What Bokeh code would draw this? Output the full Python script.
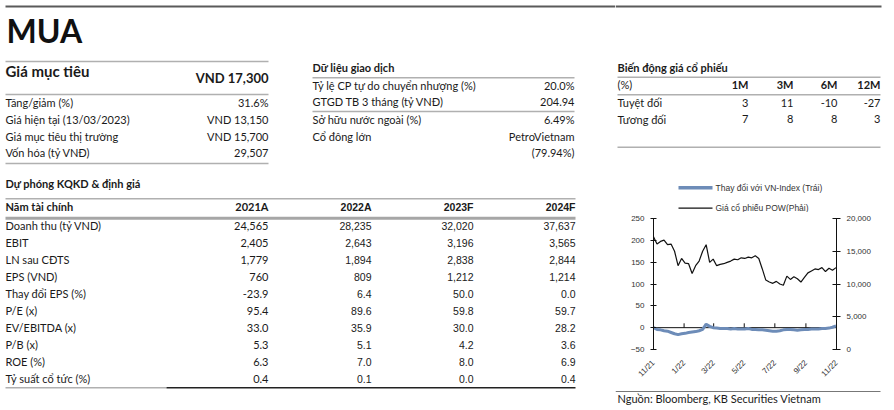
from math import pi
import pandas as pd
from bokeh.plotting import figure
from bokeh.layouts import row, column
from bokeh.models import Range1d, LinearAxis, FixedTicker, NumeralTickFormatter
from bokeh.embed import file_html
from bokeh.resources import INLINE
from bokeh.core.properties import value

# ---------------- data ----------------
rating = "MUA"
target_label = "Giá mục tiêu"
target_value = "VND 17,300"
summary_labels = ["Tăng/giảm (%)", "Giá hiện tại (13/03/2023)", "Giá mục tiêu thị trường", "Vốn hóa (tỷ VNĐ)"]
summary_values = ["31.6%", "VND 13,150", "VND 15,700", "29,507"]

trading_title = "Dữ liệu giao dịch"
trading_labels = ["Tỷ lệ CP tự do chuyển nhượng (%)", "GTGD TB 3 tháng (tỷ VNĐ)", "Sở hữu nước ngoài (%)", "Cổ đông lớn", ""]
trading_values = ["20.0%", "204.94", "6.49%", "PetroVietnam", "(79.94%)"]

perf_title = "Biến động giá cổ phiếu"
perf_header = "(%)"
perf_periods = ["1M", "3M", "6M", "12M"]
perf_rows = ["Tuyệt đối", "Tương đối"]
perf_abs = [3, 11, -10, -27]
perf_rel = [7, 8, 8, 3]

fc_title = "Dự phóng KQKD & định giá"
fc_header = "Năm tài chính"
fc_years = ["2021A", "2022A", "2023F", "2024F"]
fc_items = ["Doanh thu (tỷ VND)", "EBIT", "LN sau CĐTS", "EPS (VND)", "Thay đổi EPS (%)",
            "P/E (x)", "EV/EBITDA (x)", "P/B (x)", "ROE (%)", "Tỷ suất cổ tức (%)"]
fc_2021A = [24565, 2405, 1779, 760, -23.9, 95.4, 33.0, 5.3, 6.3, 0.4]
fc_2022A = [28235, 2643, 1894, 809, 6.4, 89.6, 35.9, 5.1, 7.0, 0.1]
fc_2023F = [32020, 3196, 2838, 1212, 50.0, 59.8, 30.0, 4.2, 8.0, 0.0]
fc_2024F = [37637, 3565, 2844, 1214, 0.0, 59.7, 28.2, 3.6, 6.9, 0.4]

legend_rel = "Thay đổi với VN-Index (Trái)"
legend_price = "Giá cổ phiếu POW(Phải)"
source_note = "Nguồn: Bloomberg, KB Securities Vietnam"

# weekly observations, Nov 2021 - Oct 2022
dates = pd.date_range("2021-11-01", periods=53, freq="7D")
pow_price = [17200, 16100, 16500, 16700, 16000, 16100, 15000, 12800, 13900, 13200,
             13100, 11600, 12800, 13500, 15000, 16000, 13300, 13800, 12800, 13000,
             13100, 13300, 13500, 13800, 13700, 14000, 13900, 14100, 14000, 14300,
             13900, 12300, 10600, 10300, 10100, 10400, 10000, 9800, 11200, 10700,
             11100, 10800, 10300, 11000, 11700, 12000, 12300, 12200, 12500, 11900,
             12400, 12100, 12500]
rel_vnindex = [0, -4, -5, -7, -8, -11, -14, -16, -14, -13,
               -11, -10, -9, -7, -4, 8, 3, 0, -1, -2,
               -2, -2, -3, -2, -3, -3, -3, -2, -4, -4,
               -5, -5, -6, -7, -8, -8, -7, -5, -4, -4,
               -5, -6, -5, -4, -4, -3, -3, -3, -2, -2,
               -1, 1, 4]
x_ticks = ["2021-11-01", "2022-01-01", "2022-03-01", "2022-05-01", "2022-07-01", "2022-09-01", "2022-11-01"]
x_tick_labels = ["11/21", "1/22", "3/22", "5/22", "7/22", "9/22", "11/22"]
left_ticks = [-50, 0, 50, 100, 150, 200, 250]
right_ticks = [0, 5000, 10000, 15000, 20000]

# ---------------- styling ----------------
BODY = "Lato"
NUMF = "Liberation Sans"
TXT = "#1a1a1a"
RULE = "#b0b0b0"
FS = 11
SHIFT = 0.42  # alphabetic-baseline correction, in em


def canvas(x0, x1, y0, y1):
    p = figure(width=x1 - x0, height=y1 - y0, x_range=Range1d(x0, x1), y_range=Range1d(y1, y0),
               output_backend="svg", toolbar_location=None, min_border=0,
               x_axis_location=None, y_axis_location=None, frame_align=False)
    p.grid.visible = False
    p.outline_line_color = None
    return p


def txt(p, xs, ys, texts, size=FS, font=BODY, style="normal", align="left",
        color=TXT, baseline="alphabetic"):
    if baseline == "alphabetic":
        ys = [y - SHIFT * size for y in ys]
    p.text(x=xs, y=ys, text=texts, text_font=value(font), text_font_size=f"{size}px",
           text_font_style=style, text_align=align, text_baseline=baseline, text_color=color)


def rule(p, x0, x1, y, color=RULE, width=1.5):
    p.segment(x0=[x0], y0=[y], x1=[x1], y1=[y], line_color=color, line_width=width)


def fmt(v, i):
    return f"{v:,.0f}" if i < 4 else f"{v:.1f}"


# ---------------- left canvas ----------------
L = canvas(0, 615, 0, 410)
rule(L, 5, 615, 6, "#5a5a5a", 2)
txt(L, [6], [43], [rating], size=32, style="bold", color="#111")

rule(L, 5, 268, 61)
txt(L, [5], [77], [target_label], size=15, style="bold")
txt(L, [268], [83], [target_value], size=13, style="bold", align="right")
rule(L, 5, 268, 94)
sum_y = [107, 124, 140.5, 157]
txt(L, [5] * 4, sum_y, summary_labels)
txt(L, [268] * 4, sum_y, summary_values, align="right")
rule(L, 5, 268, 163)

# trading data
txt(L, [312], [71.7], [trading_title], style="bold")
rule(L, 312, 574, 77.3)
tr_y = [89.3, 105.7, 123.3, 140.7, 156.7]
txt(L, [312] * 5, tr_y, trading_labels)
txt(L, [574] * 5, tr_y, trading_values, align="right")
rule(L, 312, 574, 111)

# forecast table
txt(L, [5], [188], [fc_title], style="bold")
rule(L, 5, 575, 198.3)
txt(L, [5], [210.7], [fc_header], style="bold")
col_x = [268, 371, 473, 575]
txt(L, [col_x[0]], [210.7], [fc_years[0]], style="bold", align="right")
txt(L, col_x[1:], [210.7] * 3, fc_years[1:], size=10.5, font=NUMF, style="bold", align="right")
rule(L, 5, 575, 217.7, "#a6a6a6", 3)
row_y = [230 + 17 * i for i in range(len(fc_items))]
txt(L, [5] * len(fc_items), row_y, fc_items)
txt(L, [col_x[0]] * len(row_y), row_y, [fmt(v, i) for i, v in enumerate(fc_2021A)], align="right")
for cx, vals in zip(col_x[1:], [fc_2022A, fc_2023F, fc_2024F]):
    txt(L, [cx] * len(row_y), row_y, [fmt(v, i) for i, v in enumerate(vals)],
        size=10.5, font=NUMF, align="right")
rule(L, 5, 166, 387.3)
rule(L, 166, 575, 387.3, "#222222", 1.5)

# ---------------- right top canvas ----------------
R = canvas(615, 894, 0, 212)
rule(R, 615, 881, 6, "#5a5a5a", 2)
txt(R, [617], [71.7], [perf_title], style="bold")
rule(R, 617, 880, 76.7)
per_x = [748, 793, 837, 880]
txt(R, [617], [89], [perf_header])
txt(R, per_x, [89] * 4, perf_periods, style="bold", align="right")
rule(R, 617, 880, 94.3)
txt(R, [617, 617], [106.7, 123.3], perf_rows)
txt(R, per_x, [106.7] * 4, [str(v) for v in perf_abs], align="right")
txt(R, per_x, [123.3] * 4, [str(v) for v in perf_rel], align="right")
rule(R, 617, 880, 146.7)
# legend
rule(R, 678, 712, 187.3, "#6d8cb8", 3.5)
rule(R, 678, 712, 207.7, "#111111", 1.3)
txt(R, [715, 715], [187.3, 207.7], [legend_rel, legend_price], size=8.5, font=NUMF,
    color="#333333", baseline="middle")

# ---------------- chart ----------------
x_start = pd.Timestamp(x_ticks[0])
x_end = pd.Timestamp(x_ticks[-1])
C = figure(width=279, height=172, x_axis_type="datetime",
           x_range=Range1d(x_start, x_end), y_range=Range1d(left_ticks[0], left_ticks[-1]),
           output_backend="svg", toolbar_location=None, frame_align=False,
           min_border_left=38, min_border_right=58, min_border_top=6, min_border_bottom=31)
C.extra_y_ranges = {"price": Range1d(right_ticks[0], right_ticks[-1])}
C.grid.visible = False
C.outline_line_color = None

tick_ms = [pd.Timestamp(t).value / 1e6 for t in x_ticks]
xa = C.xaxis[0]
xa.ticker = FixedTicker(ticks=tick_ms)
xa.major_label_overrides = {ms: lab for ms, lab in zip(tick_ms, x_tick_labels)}
xa.major_label_orientation = pi / 4
xa.axis_line_color = None
xa.major_tick_line_color = None
xa.minor_tick_line_color = None
xa.major_label_standoff = 6
xa.major_label_text_font = NUMF
xa.major_label_text_font_size = "8px"
xa.major_label_text_color = "#333333"

ya = C.yaxis[0]
ya.ticker = FixedTicker(ticks=left_ticks)
ya.axis_line_color = "#111111"
ya.major_tick_line_color = "#111111"
ya.minor_tick_line_color = None
ya.major_tick_in = 3
ya.major_tick_out = 3
ya.major_label_standoff = 6
ya.major_label_text_font = NUMF
ya.major_label_text_font_size = "8px"
ya.major_label_text_color = "#333333"

ra = LinearAxis(y_range_name="price", ticker=FixedTicker(ticks=right_ticks),
                formatter=NumeralTickFormatter(format="0,0"))
ra.axis_line_color = "#111111"
ra.major_tick_line_color = "#111111"
ra.minor_tick_line_color = None
ra.major_tick_in = 4
ra.major_tick_out = 4
ra.major_label_standoff = 6
ra.major_label_text_font = NUMF
ra.major_label_text_font_size = "8px"
ra.major_label_text_color = "#333333"
C.add_layout(ra, "right")

# zero line with small upward ticks
C.segment(x0=[x_start], y0=[0], x1=[x_end], y1=[0], line_color="#111111", line_width=1)
mid_ticks = [pd.Timestamp(t) for t in x_ticks[1:-1]]
C.segment(x0=mid_ticks, y0=[0] * len(mid_ticks), x1=mid_ticks, y1=[10] * len(mid_ticks),
          line_color="#111111", line_width=1)

C.line(dates, pow_price, line_color="#111111", line_width=1.2, y_range_name="price")
C.line(dates, rel_vnindex, line_color="#6d8cb8", line_width=3)

# ---------------- bottom note ----------------
B = canvas(615, 894, 384, 410)
rule(B, 615, 880, 391, "#777777", 1)
txt(B, [617], [403], [source_note], size=FS)

layout = row(L, column(R, C, B, spacing=0), spacing=0)

with open("out.html", "w") as f:
    f.write(file_html(layout, INLINE))
